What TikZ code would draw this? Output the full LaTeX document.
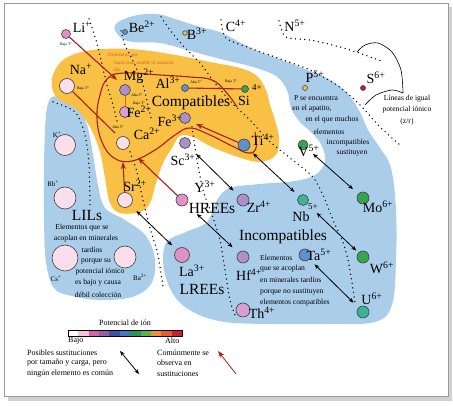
\documentclass[tikz,border=0pt]{standalone}
\usepackage{fontspec}
\setmainfont{Liberation Serif}
\usetikzlibrary{arrows.meta, positioning}

\definecolor{orangeblob}{RGB}{249,192,70}
\definecolor{blueblob}{RGB}{170,206,234}
\definecolor{redline}{RGB}{168,32,24}
\definecolor{notecol}{RGB}{222,96,20}
\definecolor{lilac}{RGB}{172,145,200}
\definecolor{mauve}{RGB}{215,160,212}
\definecolor{pale}{RGB}{250,222,236}
\definecolor{rose}{RGB}{224,145,198}
\definecolor{ionblue}{RGB}{95,145,205}
\definecolor{iongreen}{RGB}{55,165,80}
\definecolor{ionteal}{RGB}{60,178,150}
\definecolor{ionyellow}{RGB}{235,200,70}
\definecolor{ionred}{RGB}{185,35,45}
\definecolor{bar1}{RGB}{255,255,255}
\definecolor{bar2}{RGB}{250,195,220}
\definecolor{bar3}{RGB}{215,100,170}
\definecolor{bar4}{RGB}{150,95,170}
\definecolor{bar5}{RGB}{60,80,165}
\definecolor{bar6}{RGB}{65,120,190}
\definecolor{bar7}{RGB}{40,150,90}
\definecolor{bar8}{RGB}{95,180,70}
\definecolor{bar9}{RGB}{240,140,60}
\definecolor{bar10}{RGB}{232,92,50}
\definecolor{bar11}{RGB}{205,30,50}

\newcommand{\elm}[2]{#1\textsuperscript{#2}}

\tikzset{
  ion/.style={circle, draw=black!75, line width=0.6pt, inner sep=0pt},
  sym/.style={font=\fontsize{14}{14}\selectfont, inner sep=0pt},
  chg/.style={font=\fontsize{9}{9}\selectfont, inner sep=0pt},
  big/.style={font=\fontsize{15.5}{15.5}\selectfont, inner sep=0pt},
  smallsym/.style={font=\fontsize{7}{7}\selectfont, inner sep=0pt},
  note/.style={font=\fontsize{7.6}{8}\selectfont, inner sep=0pt},
  legtext/.style={font=\fontsize{8}{9}\selectfont, inner sep=0pt, anchor=west},
  tiny/.style={font=\fontsize{3.8}{4}\selectfont, inner sep=0pt},
  orangenote/.style={font=\fontsize{5}{5}\selectfont, inner sep=0pt, text=notecol},
  isoline/.style={line width=1.5pt, line cap=round, dash pattern=on 0pt off 4.6pt},
  subst/.style={{Stealth[length=5pt,width=4pt]}-{Stealth[length=5pt,width=4pt]}, line width=0.8pt},
  common/.style={-{Stealth[length=7pt,width=5pt]}, redline, line width=1.1pt},
}

\begin{document}
\begin{tikzpicture}[x=1pt, y=-1pt]
\useasboundingbox (0,0) rectangle (453,406);
\fill[black!18] (8,7) rectangle (452,401);
\fill[white, draw=black!40, line width=0.6pt] (4,3) rectangle (448,396);

% campos
\fill[blueblob] plot[smooth cycle, tension=0.6] coordinates {(115,25) (133,16) (157,14) (175,19) (200,27) (222,33) (253,49) (287,62) (310,71) (332,81) (348,94) (360,112) (368,130) (380,148) (391,168) (396,210) (396,260) (392,305) (375,322) (330,324) (270,324) (225,322) (195,313) (175,297) (164,270) (166,243) (186,232) (207,222) (217,200) (230,188) (260,184) (295,181) (315,175) (325,162) (322,146) (312,133) (300,122) (291,108) (287,90) (276,76) (253,67) (233,62) (213,57) (187,50) (160,43) (133,42) (120,37)};
\fill[blueblob] plot[smooth cycle, tension=0.6] coordinates {(52,97) (64,99) (77,108) (87,125) (93,155) (98,185) (105,208) (125,220) (146,236) (155,260) (151,284) (132,297) (100,300) (72,296) (54,288) (46,262) (44,220) (44,170) (45,130) (47,108)};
\fill[orangeblob] plot[smooth cycle, tension=0.6] coordinates {(54,72) (66,58) (92,50) (130,49) (170,54) (210,62) (240,68) (257,76) (266,90) (270,105) (275,120) (279,138) (276,155) (260,162) (238,157) (212,147) (193,137) (180,136) (172,148) (163,163) (156,183) (150,203) (140,212) (120,213) (110,203) (105,178) (100,152) (90,127) (75,108) (58,99) (52,87)};

% lineas de igual potencial
\draw[isoline] plot[smooth] coordinates {(89,19) (96,40) (101,60) (107,85) (113,105) (118,125)};
\draw[isoline] plot[smooth] coordinates {(53,102) (75,112) (85,135) (89,165) (90,207)};
\draw[isoline] plot[smooth] coordinates {(121,31) (125,45) (135,65) (143,85) (148,105) (152,122)};
\draw[isoline] plot[smooth] coordinates {(161,17) (170,30) (184,47) (200,63) (215,83) (232,103) (250,120) (268,140) (290,158) (312,176) (323,195) (333,220) (344,245) (350,270) (355,303)};
\draw[isoline] plot[smooth] coordinates {(221,20) (226,38) (250,48) (283,60) (310,70) (338,86) (360,105) (380,127) (400,145)};
\draw[isoline] plot[smooth] coordinates {(279,21) (286,37) (310,40) (340,47) (362,54) (384,62)};
\draw[isoline] plot[smooth] coordinates {(130,152) (137,172) (143,200) (150,228) (158,255) (163,287)};
\draw[isoline] plot[smooth] coordinates {(192,127) (197,160) (203,190) (212,215) (220,240) (225,270) (230,300) (235,315)};

% lineas rojas
\draw[redline, line width=1.1pt] plot[smooth, tension=0.7] coordinates {(237,107) (226,92) (212,80) (190,77) (160,75) (125,73) (108,78) (100,95) (97,118) (102,142) (114,158) (132,161) (155,150) (175,135) (190,128) (210,135) (232,146) (248,153) (256,148) (255,132)};

% iones
\node (li)  [ion, minimum size=9pt,  fill=rose]       at (66,34)  {};
\node (be)  [ion, minimum size=5pt,  fill=ionblue]    at (125,32) {};
\node (b)   [ion, minimum size=4.5pt,fill=ionyellow]  at (185,33) {};
\node (p)   [ion, minimum size=5pt,  fill=ionyellow]  at (305,88) {};
\node (s)   [ion, minimum size=5pt,  fill=ionred]     at (363,88) {};
\node (na)  [ion, minimum size=15pt, fill=pale]       at (67,86)  {};
\node (mg)  [ion, minimum size=11pt, fill=lilac]      at (125,90) {};
\node (fe2) [ion, minimum size=11pt, fill=mauve]      at (125,112) {};
\node (al)  [ion, minimum size=7pt,  fill=ionblue]    at (185,88) {};
\node (si4) [ion, minimum size=7pt,  fill=iongreen]   at (245,89) {};
\node (fe3) [ion, minimum size=11pt, fill=lilac]      at (185,118) {};
\node (ca)  [ion, minimum size=13pt, fill=pale]       at (123,143) {};
\node (ti)  [ion, minimum size=12pt, fill=ionblue]    at (244,145) {};
\node (sc)  [ion, minimum size=11pt, fill=lilac]      at (185,143) {};
\node (sr)  [ion, minimum size=15pt, fill=pale]       at (125,200) {};
\node (y)   [ion, minimum size=12pt, fill=rose]       at (182,200) {};
\node (zr)  [ion, minimum size=12pt, fill=lilac]      at (243,200) {};
\node (nb)  [ion, minimum size=11pt, fill=ionteal]    at (303,200) {};
\node (mo)  [ion, minimum size=12pt, fill=iongreen]   at (363,198) {};
\node (v)   [ion, minimum size=10pt, fill=iongreen]   at (303,145) {};
\node (la)  [ion, minimum size=15pt, fill=rose]       at (182,255) {};
\node (hf)  [ion, minimum size=12pt, fill=lilac]      at (243,257) {};
\node (ta)  [ion, minimum size=12pt, fill=ionblue]    at (305,255) {};
\node (w)   [ion, minimum size=12pt, fill=iongreen]   at (363,257) {};
\node (u)   [ion, minimum size=12pt, fill=ionteal]    at (363,312) {};
\node (th)  [ion, minimum size=14pt, fill=mauve]      at (243,310) {};
\node (k)   [ion, minimum size=21pt, fill=pale]       at (65,145) {};
\node (rb)  [ion, minimum size=22pt, fill=pale]       at (65,198) {};
\node (cs)  [ion, minimum size=26pt, fill=pale]       at (65,258) {};
\node (ba)  [ion, minimum size=22pt, fill=pale]       at (125,257) {};

% sustituciones comunes
\coordinate (mgtip) at (117,80);
\coordinate (catop) at (115,133);
\coordinate (fetip) at (196,124);
\coordinate (srtip) at (123,162);
\coordinate (ytip) at (138,158);
\draw[common] (li) -- (mgtip);
\draw[redline, line width=1.1pt] (na) -- (catop);
\draw[redline, line width=1.1pt] (al) -- (si4);
\draw[notecol, line width=1pt] (mg) -- (fe2);
\draw[common] (ti) -- (fetip);
\draw[common] (sr) -- (srtip);
\draw[common] (y) -- (ytip);

% sustituciones posibles
\draw[subst, shorten <=10pt, shorten >=7pt] (sc) -- (zr);
\draw[subst, shorten <=6pt, shorten >=6pt] (ti) -- (nb);
\draw[subst, shorten <=8pt, shorten >=7pt] (v) -- (mo);
\draw[subst, shorten <=13pt, shorten >=3pt] (nb) -- (w);
\draw[subst, shorten <=7pt, shorten >=7pt] (ta) -- (u);
\draw[subst, shorten <=8pt, shorten >=6pt] (sr) -- (la);
\draw[subst, shorten <=14pt, shorten >=8pt] (y) -- (hf);

% simbolos
\node (lilab)  [sym] at (82,27)   {\elm{Li}{+}};
\node (belab)  [sym] at (142,27)  {\elm{Be}{2+}};
\node (blab)   [sym] at (197,34)  {\elm{B}{3+}};
\node (clab)   [sym] at (236,26)  {\elm{C}{4+}};
\node (nlab)   [sym] at (295,26)  {\elm{N}{5+}};
\node (plab)   [sym] at (315,77)  {\elm{P}{5+}};
\node (slab)   [sym] at (376,78)  {\elm{S}{6+}};
\node (nalab)  [sym] at (81,69)   {\elm{Na}{+}};
\node (mglab)  [sym] at (139,76)  {\elm{Mg}{2+}};
\node (fe2lab) [sym] at (139,112) {\elm{Fe}{2+}};
\node (allab)  [sym] at (168,83)  {\elm{Al}{3+}};
\node (si4lab) [sym] at (244,101) {Si};
\node (si4chg) [chg] at (257,88)  {4+};
\node (fe3lab) [sym] at (170,121) {\elm{Fe}{3+}};
\node (calab)  [sym] at (147,134) {\elm{Ca}{2+}};
\node (tilab)  [sym] at (263,140) {\elm{Ti}{4+}};
\node (sclab)  [sym] at (183,160) {\elm{Sc}{3+}};
\node (srlab)  [sym] at (135,186) {\elm{Sr}{2+}};
\node (ylab)   [sym] at (205,187) {\elm{Y}{3+}};
\node (zrlab)  [sym] at (259,207) {\elm{Zr}{4+}};
\node (nblab)  [sym] at (301,217) {Nb};
\node (nbchg)  [chg] at (313,207) {5+};
\node (molab)  [sym] at (378,207) {\elm{Mo}{6+}};
\node (vlab)   [sym] at (309,151) {\elm{V}{5+}};
\node (lalab)  [sym] at (192,271) {\elm{La}{3+}};
\node (hflab)  [sym] at (249,275) {\elm{Hf}{4+}};
\node (talab)  [sym] at (319,255) {\elm{Ta}{5+}};
\node (wlab)   [sym] at (382,268) {\elm{W}{6+}};
\node (ulab)   [sym] at (372,299) {\elm{U}{6+}};
\node (thlab)  [sym] at (262,313) {\elm{Th}{4+}};
\node (klab)   [smallsym] at (57,135)  {\elm{K}{+}};
\node (rblab)  [smallsym] at (53,184)  {\elm{Rb}{+}};
\node (cslab)  [smallsym] at (56,279)  {\elm{Cs}{+}};
\node (balab)  [smallsym] at (140,277) {\elm{Ba}{2+}};

% grupos
\node (compat)   [big] at (191,103) {Compatibles};
\node (incompat) [big] at (283,237) {Incompatibles};
\node (lils)     [big] at (87,216)  {LILs};
\node (hrees)    [big] at (212,209) {HREEs};
\node (lrees)    [big] at (202,290) {LREEs};

% temperaturas
\node (t1) [tiny] at (66,45)  {Baja T°};
\node (t2) [tiny] at (83,89)  {Baja T°};
\node (t3) [tiny] at (137,95) {Alta T°};
\node (t4) [tiny] at (139,104) {Baja T°};
\node (t5) [tiny] at (118,127) {Alta T°};
\node (t6) [tiny] at (196,82) {Alta T°};
\node (t7) [tiny] at (231,82) {Baja T°};
\node (o1) [orangenote] at (123,55) {Elementos que};
\node (o2) [orangenote] at (144,63) {hacen más estable el armazón};
\node (o3) [orangenote] at (117,70) {alta};

% notas
\foreach \t/\x/\y [count=\i] in {P se encuentra/316/98, {en el apatito,}/312/109, en el que muchos/332/120, elementos/329/132, incompatibles/348/143, sustituyen/352/153}
  \node (pnote\i) [note] at (\x,\y) {\t};
\foreach \t/\x/\y [count=\i] in {Elementos que se/82/228, acoplan en minerales/86/239, tardíos/92/250, porque su/96/261, potencial iónico/100/272, es bajo y causa/98/283, débil colección/98/295}
  \node (lilnote\i) [note] at (\x,\y) {\t};
\foreach \t/\y [count=\i] in {Elementos/258, que se acoplan/269, en minerales tardíos/280, porque no sustituyen/292, elementos compatibles/303}
  \node (incnote\i) [note, anchor=west] at (260,\y) {\t};
\node (lineas1) [note] at (407,99)  {Líneas de igual};
\node (lineas2) [note] at (407,110) {potencial iónico};
\node (lineas3) [note] at (407,122) {(z/r)};
\draw[line width=0.6pt] plot[smooth] coordinates {(403,93) (401,70) (392,52) (378,43) (365,45) (357,52)};
\draw[line width=0.6pt] plot[smooth] coordinates {(403,93) (392,90) (376,95) (365,105)};

% leyenda
\node (potlab) [legtext, anchor=center] at (125,323) {Potencial de ión};
\foreach \i in {1,...,11}
  \fill[bar\i] (68+\i*10.36-10.36,330) rectangle ++(10.36,6);
\draw[line width=0.5pt] (68,330) rectangle (182,336);
\node (bajo) [legtext] at (68,341) {Bajo};
\node (alto) [legtext] at (165,341) {Alto};
\node (leg1) [legtext] at (27,353) {Posibles sustituciones};
\node (leg2) [legtext] at (27,363) {por tamaño y carga, pero};
\node (leg3) [legtext] at (27,374) {ningún elemento es común};
\node (leg4) [legtext] at (157,353) {Comúnmente se};
\node (leg5) [legtext] at (157,363) {observa en};
\node (leg6) [legtext] at (157,374) {sustituciones};
\coordinate (dbla) at (120,351);
\coordinate (dblb) at (139,374);
\draw[subst] (dbla) -- (dblb);
\coordinate (reda) at (236,374);
\coordinate (redb) at (218,351);
\draw[common, line width=0.8pt] (reda) -- (redb);
\end{tikzpicture}
\end{document}
